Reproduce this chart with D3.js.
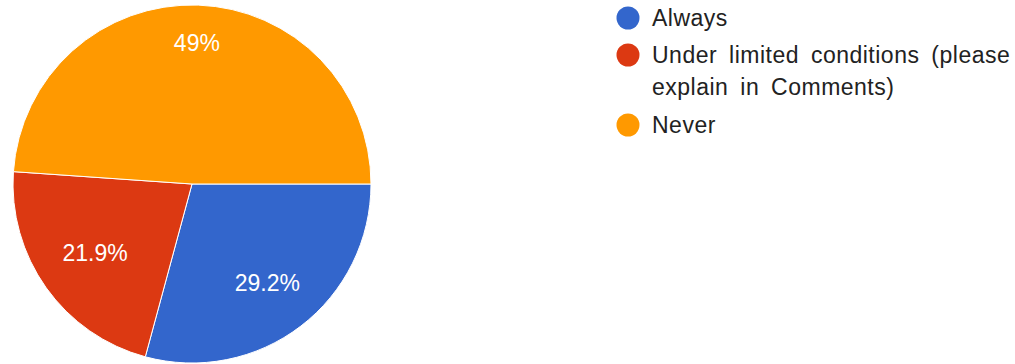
<!DOCTYPE html>
<html>
<head>
<meta charset="utf-8">
<script src="https://cdn.jsdelivr.net/npm/d3@7"></script>
<style>
  body { margin: 0; background: #fff; }
  svg { display: block; font-family: 'Liberation Sans', Arial, sans-serif; }
</style>
</head>
<body>
<svg id="chart" width="1015" height="364"></svg>
<script>
// DATA
const categories = ['Always', 'Under limited conditions (please explain in Comments)', 'Never'];
const legendLines = [['Always'], ['Under limited conditions (please', 'explain in Comments)'], ['Never']];
const shares = [29.2, 21.9, 48.9];
const pctLabels = ['29.2%', '21.9%', '49%'];
const colors = ['#3366cc', '#dc3912', '#ff9900'];

const svg = d3.select('#chart');
const cx = 192, cy = 184, radius = 179;
const fontSize = 23;

const pie = d3.pie()
  .sort(null)
  .value((d) => d)
  .startAngle(Math.PI / 2)
  .endAngle(Math.PI / 2 + 2 * Math.PI);

const arc = d3.arc().innerRadius(0).outerRadius(radius);
const arcs = pie(shares);

const g = svg.append('g').attr('transform', `translate(${cx},${cy})`);

g.selectAll('path.slice')
  .data(arcs)
  .join('path')
  .attr('class', 'slice')
  .attr('d', arc)
  .attr('fill', (d, i) => colors[i])
  .attr('stroke', '#fff')
  .attr('stroke-width', 1);

// Labels: push each text box out until its outer corner sits at ~0.84r
g.selectAll('text.pct')
  .data(arcs)
  .join('text')
  .attr('class', 'pct')
  .attr('text-anchor', 'middle')
  .attr('font-size', fontSize)
  .attr('fill', '#fff')
  .text((d, i) => pctLabels[i])
  .each(function (d) {
    const a = (d.startAngle + d.endAngle) / 2;
    const ux = Math.sin(a), uy = -Math.cos(a);
    const w = this.getComputedTextLength();
    const h = fontSize * 0.72;
    const dist = radius * 0.84 - (Math.abs(ux) * w / 2 + Math.abs(uy) * h / 2);
    d3.select(this)
      .attr('x', ux * dist)
      .attr('y', uy * dist + h / 2);
  });

// LEGEND
const legend = svg.append('g').attr('transform', 'translate(628,0)');
const rowY = [18, 55, 125];
const lineGap = 32;

const rows = legend.selectAll('g.row')
  .data(categories)
  .join('g')
  .attr('class', 'row')
  .attr('transform', (d, i) => `translate(0,${rowY[i]})`);

rows.append('circle')
  .attr('r', 11.5)
  .attr('fill', (d, i) => colors[i]);

rows.append('text')
  .attr('x', 24)
  .attr('font-size', fontSize)
  .attr('letter-spacing', 0.5)
  .attr('word-spacing', 5)
  .attr('fill', '#222')
  .selectAll('tspan')
  .data((d, i) => legendLines[i])
  .join('tspan')
  .attr('x', 24)
  .attr('y', (d, j) => 8 + j * lineGap)
  .text((d) => d);
</script>
</body>
</html>
